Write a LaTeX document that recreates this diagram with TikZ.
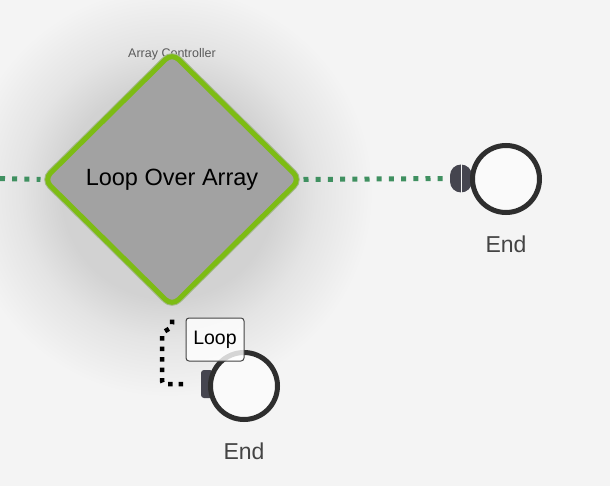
\documentclass[tikz,border=0pt]{standalone}
\usepackage{fontspec}
\setmainfont{Liberation Sans}
\usepackage{xcolor}
\usepackage{tikz}
\usetikzlibrary{positioning,shapes.geometric}
\definecolor{bg}{HTML}{F4F4F4}
\definecolor{shd}{HTML}{D2D2D2}
\definecolor{shdm}{HTML}{E4E4E4}
\definecolor{lime}{HTML}{7DBC14}
\definecolor{limeedge}{HTML}{A3B88A}
\definecolor{gatefill}{HTML}{A2A2A2}
\definecolor{flow}{HTML}{3F9060}
\definecolor{port}{HTML}{45454F}
\definecolor{ring}{HTML}{2E2E2E}
\definecolor{txt}{HTML}{444444}
\definecolor{captxt}{HTML}{5A5A5A}
\pgfdeclareradialshading{glow}{\pgfpoint{0bp}{0bp}}{color(0bp)=(shd); color(13bp)=(shd); color(18bp)=(shdm); color(25bp)=(bg); color(50bp)=(bg)}
\tikzset{
  gate/.style   = {diamond, draw=lime, line width=5pt, fill=gatefill,
                   rounded corners=9pt, minimum width=258pt, minimum height=255pt,
                   inner sep=0pt, font=\fontsize{23.5}{28}\selectfont,
                   preaction={draw=limeedge, line width=7pt}},
  ctrlcap/.style = {text=captxt, font=\fontsize{12.5}{15}\selectfont, inner sep=0pt},
  stop/.style   = {circle, draw=ring, line width=5pt, fill=white!98!black,
                   minimum size=67pt, inner sep=0pt},
  portR/.style  = {rectangle, fill=port, rounded corners=11pt, minimum width=22pt,
                   minimum height=28pt, inner sep=0pt},
  portB/.style  = {rectangle, fill=port, rounded corners=3pt, minimum width=12pt,
                   minimum height=28pt, inner sep=0pt},
  endlabel/.style = {text=txt, font=\fontsize{23}{28}\selectfont, inner sep=0pt},
  tag/.style    = {draw=txt, line width=1pt, fill=white, fill opacity=.8, text opacity=1,
                   rounded corners=3pt, minimum width=58pt, minimum height=43pt,
                   inner sep=0pt, font=\fontsize{19.5}{24}\selectfont},
  flowline/.style = {draw=flow, line width=5pt, dash pattern=on 5pt off 7.2pt},
  loopline/.style = {draw=black, line width=4.5pt, dash pattern=on 4.5pt off 6pt,
                     rounded corners=3pt}
}

\begin{document}
\begin{tikzpicture}[x=1pt,y=-1pt]
  \fill[bg] (0,0) rectangle (610,486);
  \useasboundingbox (0,0) rectangle (610,486);
  \shade[shading=glow] (168,192) circle (205pt);

  \node[ctrlcap] (C) at (172,54) {Array Controller};
  \node[gate] (A) at (172,179.5) {Loop Over Array};

  \node[portR] (P1) at (461,178.5) {};
  \draw[bg, line width=1pt] (461,164) -- (461,193);
  \node[stop] (E1) at (506,179) {};
  \node[endlabel, below=21pt of E1] (N1) {End};

  \node[portB] (P2) at (207,384) {};
  \node[stop] (E2) at (244,386) {};
  \node[endlabel, below=21pt of E2] (N2) {End};
  \node[tag] (T) at (215,339.5) {Loop};

  \coordinate (inL) at (0,178.5);
  \coordinate (k1) at (172,327);
  \coordinate (k2) at (162,333);
  \coordinate (k3) at (162,384);
  \draw[flowline] (inL) -- (A.west);
  \draw[flowline] (A.east) -- (P1.west);
  \draw[loopline, shorten <=10pt, shorten >=14pt] (A.south) -- (k1) -- (k2) -- (k3) -- (P2.west);
\end{tikzpicture}
\end{document}
